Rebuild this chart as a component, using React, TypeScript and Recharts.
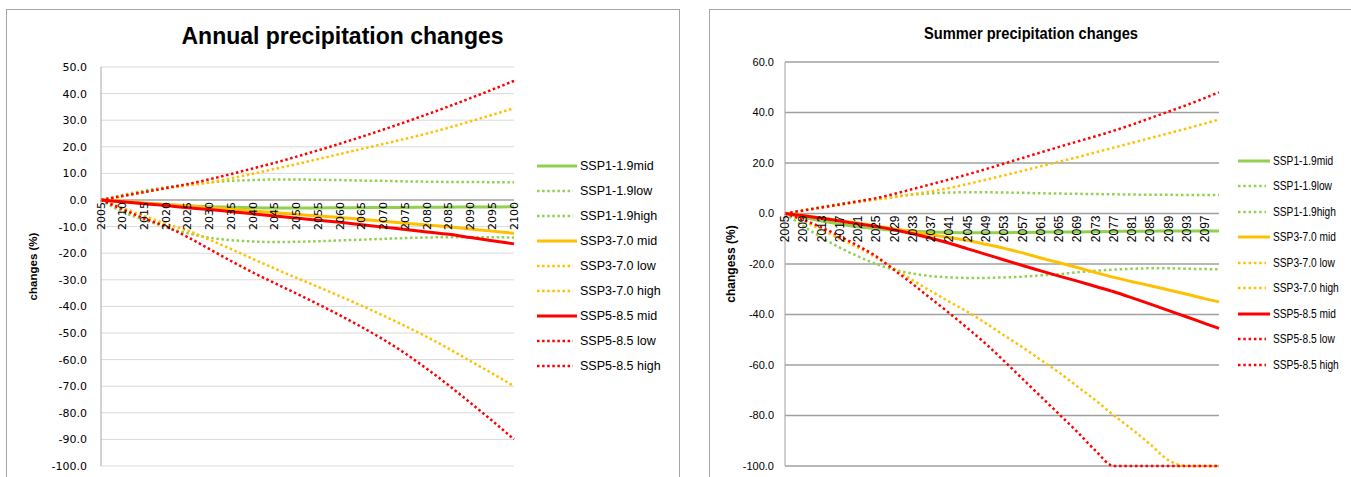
import React from 'react';
import { LineChart, Line, XAxis, YAxis, CartesianGrid, ReferenceLine, Legend } from 'recharts';

// years: annual every 5 years, summer every 4 years plus 2100
const annualYears = [2005, 2010, 2015, 2020, 2025, 2030, 2035, 2040, 2045, 2050, 2055, 2060, 2065, 2070, 2075, 2080, 2085, 2090, 2095, 2100];
const summerYears = [2005, 2009, 2013, 2017, 2021, 2025, 2029, 2033, 2037, 2041, 2045, 2049, 2053, 2057, 2061, 2065, 2069, 2073, 2077, 2081, 2085, 2089, 2093, 2097, 2100];
const summerTickYears = [2005, 2009, 2013, 2017, 2021, 2025, 2029, 2033, 2037, 2041, 2045, 2049, 2053, 2057, 2061, 2065, 2069, 2073, 2077, 2081, 2085, 2089, 2093, 2097];

const annualTicks = [-100, -90, -80, -70, -60, -50, -40, -30, -20, -10, 0, 10, 20, 30, 40, 50];
const summerTicks = [-100, -80, -60, -40, -20, 0, 20, 40, 60];

// annual precipitation changes (%)
const annualSsp1Mid = [0, -0.7, -1.3, -1.8, -2.2, -2.5, -2.7, -2.9, -3.0, -3.0, -3.0, -2.9, -2.9, -2.8, -2.8, -2.7, -2.7, -2.6, -2.6, -2.5];
const annualSsp1Low = [0, 1.9, 3.5, 4.8, 5.8, 6.6, 7.2, 7.5, 7.7, 7.7, 7.6, 7.5, 7.3, 7.2, 7.0, 6.9, 6.8, 6.8, 6.7, 6.7];
const annualSsp1High = [0, -4.5, -7.5, -10.3, -12.5, -14.2, -15.1, -15.6, -15.8, -15.7, -15.5, -15.2, -14.9, -14.6, -14.3, -14.1, -14.0, -14.0, -14.0, -14.1];
const annualSsp3Mid = [0, -0.5, -1.1, -1.7, -2.3, -2.9, -3.5, -4.1, -4.8, -5.4, -6.0, -6.6, -7.3, -8.0, -8.7, -9.4, -10.1, -10.9, -11.7, -12.5];
const annualSsp3Low = [0, 1.5, 3.0, 4.4, 5.5, 6.6, 8.2, 9.9, 11.7, 13.5, 15.4, 17.3, 19.2, 21.1, 23.0, 25.0, 27.2, 29.6, 32.0, 34.5];
const annualSsp3High = [0, -3.0, -6.0, -9.0, -11.5, -15.0, -18.5, -22.2, -25.8, -29.3, -32.7, -36.2, -39.8, -43.5, -47.4, -51.5, -55.9, -60.6, -65.2, -70.0];
const annualSsp5Mid = [0, -0.7, -1.4, -2.1, -2.9, -3.6, -4.4, -5.2, -6.0, -6.8, -7.6, -8.4, -9.3, -10.2, -11.1, -12.0, -12.9, -14.1, -15.3, -16.5];
const annualSsp5Low = [0, 1.5, 3.0, 4.5, 6.0, 7.8, 9.8, 11.9, 14.0, 16.3, 18.7, 21.2, 23.8, 26.5, 29.3, 32.2, 35.2, 38.3, 41.5, 44.8];
const annualSsp5High = [0, -3.5, -7.0, -10.0, -14.0, -18.5, -23.0, -27.3, -31.3, -35.2, -39.2, -43.4, -47.8, -52.5, -57.7, -63.5, -69.7, -76.3, -83.0, -90.0];

// summer precipitation changes (%)
const summerSsp1Mid = [0, -1.5, -3.0, -4.2, -5.3, -6.0, -6.6, -7.0, -7.3, -7.5, -7.6, -7.6, -7.6, -7.5, -7.4, -7.3, -7.3, -7.2, -7.1, -7.0, -7.0, -6.9, -6.9, -6.9, -6.9];
const summerSsp1Low = [0, 1.3, 2.6, 3.8, 4.9, 5.9, 6.8, 7.5, 8.0, 8.3, 8.4, 8.4, 8.3, 8.2, 8.0, 7.9, 7.8, 7.7, 7.6, 7.5, 7.4, 7.4, 7.3, 7.3, 7.3];
const summerSsp1High = [0, -5.0, -9.5, -13.5, -17.0, -20.0, -22.3, -23.8, -24.8, -25.3, -25.5, -25.5, -25.3, -25.0, -24.5, -24.0, -23.3, -22.7, -22.2, -21.9, -21.7, -21.7, -21.9, -22.0, -22.1];
const summerSsp3Mid = [0, -0.8, -1.8, -2.8, -3.8, -5.0, -6.1, -7.2, -8.4, -9.5, -10.7, -12.2, -13.8, -15.6, -17.6, -19.5, -21.4, -23.4, -25.3, -27.0, -28.6, -30.3, -32.0, -33.8, -35.0];
const summerSsp3Low = [0, 1.2, 2.3, 3.4, 4.5, 5.5, 6.5, 7.6, 8.8, 10.1, 11.7, 13.4, 15.1, 16.9, 18.7, 20.5, 22.3, 24.2, 26.1, 28.0, 29.9, 31.8, 33.7, 35.7, 37.2];
const summerSsp3High = [0, -3.0, -6.5, -10.0, -13.5, -17.5, -22.0, -26.5, -30.8, -35.0, -39.0, -43.5, -48.3, -53.0, -58.0, -63.0, -68.5, -74.0, -80.0, -85.5, -91.5, -97.8, -100, -100, -100];
const summerSsp5Mid = [0, -0.9, -1.9, -3.0, -4.1, -5.2, -6.5, -8.0, -9.8, -11.8, -14.0, -16.2, -18.4, -20.6, -22.7, -24.8, -26.8, -28.9, -31.0, -33.4, -35.9, -38.5, -41.0, -43.6, -45.5];
const summerSsp5Low = [0, 1.2, 2.4, 3.6, 4.8, 6.1, 7.8, 9.7, 11.6, 13.5, 15.5, 17.6, 19.8, 22.0, 24.2, 26.4, 28.5, 30.6, 32.8, 35.2, 37.8, 40.4, 43.0, 45.8, 48.0];
const summerSsp5High = [0, -2.5, -5.5, -9.0, -12.8, -17.0, -22.5, -28.0, -33.8, -39.5, -45.5, -51.7, -58.5, -65.5, -72.5, -79.5, -86.5, -94.0, -100, -100, -100, -100, -100, -100, -100];

const GREEN = '#92D050';
const ORANGE = '#FFC000';
const RED = '#FF0000';

const series = [
  { key: 'ssp1Mid', name: 'SSP1-1.9mid', color: GREEN, dotted: false },
  { key: 'ssp1Low', name: 'SSP1-1.9low', color: GREEN, dotted: true },
  { key: 'ssp1High', name: 'SSP1-1.9high', color: GREEN, dotted: true },
  { key: 'ssp3Mid', name: 'SSP3-7.0 mid', color: ORANGE, dotted: false },
  { key: 'ssp3Low', name: 'SSP3-7.0 low', color: ORANGE, dotted: true },
  { key: 'ssp3High', name: 'SSP3-7.0 high', color: ORANGE, dotted: true },
  { key: 'ssp5Mid', name: 'SSP5-8.5 mid', color: RED, dotted: false },
  { key: 'ssp5Low', name: 'SSP5-8.5 low', color: RED, dotted: true },
  { key: 'ssp5High', name: 'SSP5-8.5 high', color: RED, dotted: true },
];

const annualValues = {
  ssp1Mid: annualSsp1Mid, ssp1Low: annualSsp1Low, ssp1High: annualSsp1High,
  ssp3Mid: annualSsp3Mid, ssp3Low: annualSsp3Low, ssp3High: annualSsp3High,
  ssp5Mid: annualSsp5Mid, ssp5Low: annualSsp5Low, ssp5High: annualSsp5High,
};
const summerValues = {
  ssp1Mid: summerSsp1Mid, ssp1Low: summerSsp1Low, ssp1High: summerSsp1High,
  ssp3Mid: summerSsp3Mid, ssp3Low: summerSsp3Low, ssp3High: summerSsp3High,
  ssp5Mid: summerSsp5Mid, ssp5Low: summerSsp5Low, ssp5High: summerSsp5High,
};

const buildRows = (years: number[], values: Record<string, number[]>) =>
  years.map((year, i) => {
    const row: Record<string, number> = { year };
    series.forEach((s) => { row[s.key] = values[s.key][i]; });
    return row;
  });

const annualData = buildRows(annualYears, annualValues);
const summerData = buildRows(summerYears, summerValues);

// year labels sit on the zero line, like the excel category axis
const makeYearTick = (plotH: number, min: number, max: number, font: string, size: number) => (props: any) => {
  const { x, y, payload } = props;
  const ty = y - (plotH * (0 - min)) / (max - min) + 2;
  return (
    <text x={x} y={ty} transform={`rotate(-90 ${x} ${ty})`} textAnchor="end" dominantBaseline="central"
      fontFamily={font} fontSize={size} fill="#000">
      {payload.value}
    </text>
  );
};

const makeAxisTitle = (text: string, posX: number, size: number) => (props: any) => {
  const { viewBox } = props;
  const cy = viewBox.y + viewBox.height / 2;
  return (
    <text x={posX} y={cy} transform={`rotate(-90 ${posX} ${cy})`} textAnchor="middle" dominantBaseline="central"
      fontFamily="Liberation Sans" fontWeight="bold" fontSize={size} fill="#000">
      {text}
    </text>
  );
};

const makeLegend = (sampleW: number, rowH: number, fontSize: number, squeeze: number, dash: string) => () => (
  <div style={{ fontFamily: 'Liberation Sans', fontSize, color: '#000' }}>
    {series.map((s) => (
      <div key={s.key} style={{ display: 'flex', alignItems: 'center', height: rowH }}>
        <svg width={sampleW + 3} height={6} style={{ display: 'block' }}>
          <line x1={0} y1={3} x2={s.dotted ? sampleW - 4 : sampleW} y2={3} stroke={s.color}
            strokeWidth={s.dotted ? 2.5 : 3} strokeDasharray={s.dotted ? dash : undefined} />
        </svg>
        <span style={{ display: 'inline-block', whiteSpace: 'nowrap', transform: `scaleX(${squeeze})`, transformOrigin: 'left center' }}>
          {s.name}
        </span>
      </div>
    ))}
  </div>
);

const renderLines = (dash: string) =>
  series.map((s) => (
    <Line key={s.key} type="monotone" dataKey={s.key} name={s.name} stroke={s.color}
      strokeWidth={s.dotted ? 2.5 : 3} strokeDasharray={s.dotted ? dash : undefined}
      dot={false} activeDot={false} isAnimationActive={false} />
  ));

export default function App() {
  const leftPlotH = 399;
  const rightPlotH = 404;
  return (
    <div style={{ position: 'absolute', left: 0, top: 0, width: 1351, height: 477, overflow: 'hidden', background: '#fff' }}>
      <div style={{ position: 'absolute', left: 6, top: 9, width: 672, height: 520, border: '1px solid #a6a6a6' }} />
      <div style={{ position: 'absolute', left: 709, top: 9, width: 700, height: 520, border: '1px solid #a6a6a6' }} />

      <div style={{ position: 'absolute', left: 0, top: 0 }}>
        <LineChart width={680} height={477} data={annualData} margin={{ top: 67, right: 166, bottom: 6, left: 10 }}>
          <CartesianGrid vertical={false} stroke="#d9d9d9" />
          <XAxis dataKey="year" type="number" domain={[2005, 2100]} ticks={annualYears} interval={0}
            height={5} axisLine={false} tickLine={false} tickSize={0} tickMargin={0}
            tick={makeYearTick(leftPlotH, -100, 50, 'DejaVu Sans', 11)} />
          <YAxis domain={[-100, 50]} ticks={annualTicks} width={91} interval={0}
            tickFormatter={(v: number) => v.toFixed(1)} axisLine={{ stroke: '#a6a6a6' }} tickLine={false}
            tickSize={6} tickMargin={8} tick={{ fontFamily: 'DejaVu Sans', fontSize: 11, fill: '#000' }}
            label={{ content: makeAxisTitle('changes (%)', 33, 11.5) }} />
          <ReferenceLine y={0} stroke="#868686" />
          <Legend layout="vertical" align="center" verticalAlign="middle"
            wrapperStyle={{ left: 537, top: 153, width: 140 }} content={makeLegend(40, 25.1, 12.5, 1, '2.5 2.6')} />
          {renderLines('2.5 2.6')}
        </LineChart>
      </div>

      <div style={{ position: 'absolute', left: 680, top: 0 }}>
        <LineChart width={671} height={477} data={summerData} margin={{ top: 62, right: 132, bottom: 6, left: 10 }}>
          <CartesianGrid vertical={false} stroke="#a0a0a0" strokeWidth={1.3} />
          <XAxis dataKey="year" type="number" domain={[2005, 2100]} ticks={summerTickYears} interval={0}
            height={5} axisLine={false} tickLine={false} tickSize={0} tickMargin={0}
            tick={makeYearTick(rightPlotH, -100, 60, 'Liberation Sans', 12)} />
          <YAxis domain={[-100, 60]} ticks={summerTicks} width={95} interval={0}
            tickFormatter={(v: number) => v.toFixed(1)} axisLine={{ stroke: '#a0a0a0' }} tickLine={false}
            tickSize={6} tickMargin={5} tick={{ fontFamily: 'Liberation Sans', fontSize: 11, fill: '#000' }}
            label={{ content: makeAxisTitle('changess (%)', 51, 12) }} />
          <Legend layout="vertical" align="center" verticalAlign="middle"
            wrapperStyle={{ left: 558, top: 148, width: 120 }} content={makeLegend(32, 25.5, 12, 0.85, '2.5 2.8')} />
          {renderLines('2.5 2.8')}
        </LineChart>
      </div>

      <svg width={1351} height={477} style={{ position: 'absolute', left: 0, top: 0, pointerEvents: 'none' }}>
        <text x={342.5} y={44} textAnchor="middle" fontFamily="Liberation Sans" fontWeight="bold" fontSize={23} fill="#000">
          Annual precipitation changes
        </text>
        <text x={1031} y={39} textAnchor="middle" fontFamily="Liberation Sans" fontWeight="bold" fontSize={17}
          textLength={214} lengthAdjust="spacingAndGlyphs" fill="#000">
          Summer precipitation changes
        </text>
      </svg>
    </div>
  );
}
